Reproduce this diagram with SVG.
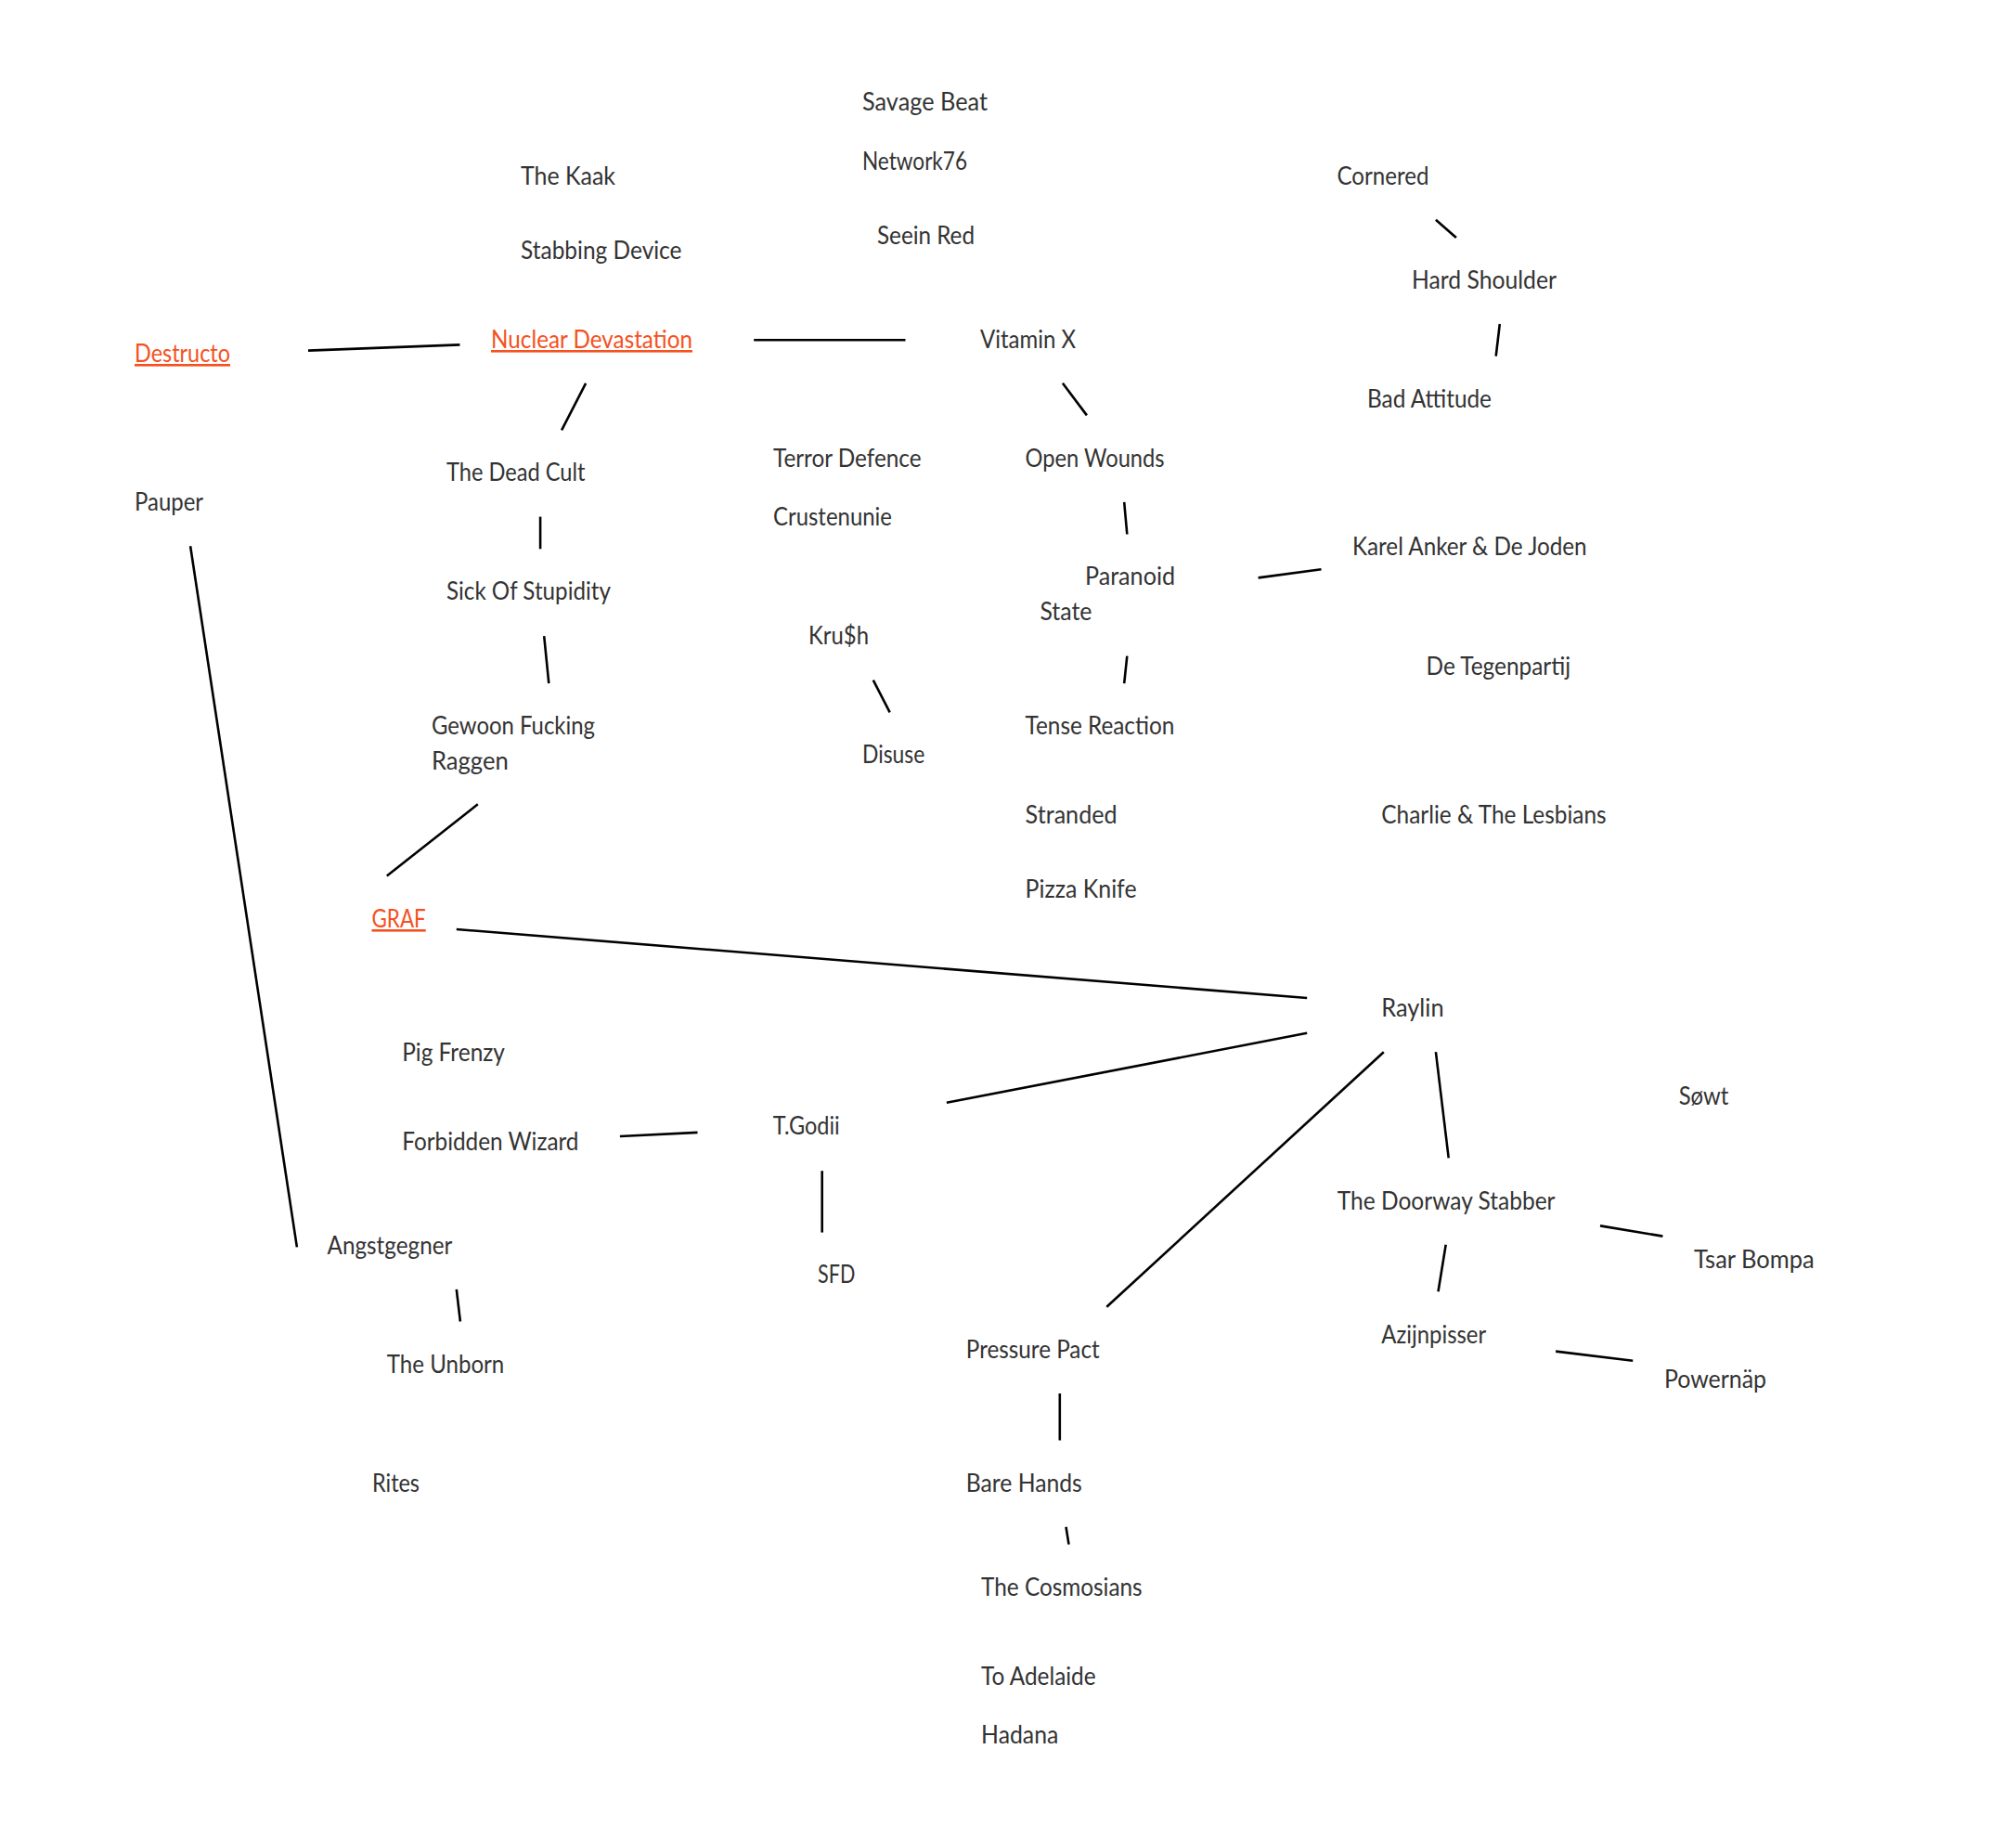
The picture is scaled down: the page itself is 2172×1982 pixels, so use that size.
<svg xmlns="http://www.w3.org/2000/svg" width="2172" height="1982" viewBox="0 0 2172 1982">
<style>
.n{font-family:Lato,"Noto Sans","Liberation Sans",sans-serif;font-size:26px;fill:#333333}
.lk{fill:#f4511e;text-decoration:underline}
.c line{stroke:#000000;stroke-width:2.6;stroke-linecap:butt}
</style>
<rect x="0" y="0" width="2172" height="1982" fill="#ffffff"/>
<g class="c" id="connectors">
<line x1="332" y1="377.6" x2="495.4" y2="371.4"/>
<line x1="812.2" y1="366.3" x2="975.5" y2="366.3"/>
<line x1="631.1" y1="412.8" x2="605.1" y2="463.3"/>
<line x1="582.1" y1="556.6" x2="582.1" y2="591.3"/>
<line x1="586.2" y1="685.2" x2="591.3" y2="736.2"/>
<line x1="514.8" y1="866.3" x2="416.8" y2="943.4"/>
<line x1="205.1" y1="588.3" x2="319.9" y2="1343.4"/>
<line x1="1144.9" y1="412.8" x2="1170.9" y2="447.4"/>
<line x1="1211.2" y1="540.8" x2="1214.3" y2="575.5"/>
<line x1="1355.6" y1="622.4" x2="1423.5" y2="613.3"/>
<line x1="1214.3" y1="706.6" x2="1211.2" y2="736.2"/>
<line x1="940.8" y1="732.7" x2="958.7" y2="767.4"/>
<line x1="1546.9" y1="236.7" x2="1568.9" y2="256.1"/>
<line x1="1615.8" y1="349" x2="1611.7" y2="383.7"/>
<line x1="491.8" y1="1001" x2="1408.2" y2="1075"/>
<line x1="1408.2" y1="1112.8" x2="1019.9" y2="1187.8"/>
<line x1="1490.8" y1="1133.2" x2="1192.3" y2="1407.7"/>
<line x1="1546.9" y1="1133.2" x2="1560.7" y2="1247.4"/>
<line x1="1557.7" y1="1340.8" x2="1549.5" y2="1391.3"/>
<line x1="1724" y1="1320.4" x2="1791.4" y2="1331.6"/>
<line x1="1676.1" y1="1455.6" x2="1759.2" y2="1465.8"/>
<line x1="667.9" y1="1224" x2="751.5" y2="1219.9"/>
<line x1="885.7" y1="1261.2" x2="885.7" y2="1327.6"/>
<line x1="491.8" y1="1388.8" x2="495.9" y2="1423.5"/>
<line x1="1141.8" y1="1501" x2="1141.8" y2="1551.5"/>
<line x1="1148.5" y1="1644.8" x2="1151.5" y2="1663.6"/>
</g>
<g id="nodes" transform="translate(0,1)">
<g id="destructo"><text class="n lk" x="145" y="389" textLength="103" lengthAdjust="spacingAndGlyphs">Destructo</text></g>
<g id="nuclear-devastation"><text class="n lk" x="529" y="374" textLength="217" lengthAdjust="spacingAndGlyphs">Nuclear Devastation</text></g>
<g id="the-kaak"><text class="n" x="561" y="198" textLength="102" lengthAdjust="spacingAndGlyphs">The Kaak</text></g>
<g id="stabbing-device"><text class="n" x="561" y="278" textLength="173.5" lengthAdjust="spacingAndGlyphs">Stabbing Device</text></g>
<g id="savage-beat"><text class="n" x="929" y="118" textLength="135" lengthAdjust="spacingAndGlyphs">Savage Beat</text></g>
<g id="network76"><text class="n" x="929" y="182" textLength="113" lengthAdjust="spacingAndGlyphs">Network76</text></g>
<g id="seein-red"><text class="n" x="945" y="262" textLength="105" lengthAdjust="spacingAndGlyphs">Seein Red</text></g>
<g id="vitamin-x"><text class="n" x="1056" y="374" textLength="103" lengthAdjust="spacingAndGlyphs">Vitamin X</text></g>
<g id="cornered"><text class="n" x="1440.5" y="198" textLength="99" lengthAdjust="spacingAndGlyphs">Cornered</text></g>
<g id="hard-shoulder"><text class="n" x="1521" y="310" textLength="156" lengthAdjust="spacingAndGlyphs">Hard Shoulder</text></g>
<g id="bad-attitude"><text class="n" x="1473" y="438" textLength="134" lengthAdjust="spacingAndGlyphs">Bad Attitude</text></g>
<g id="the-dead-cult"><text class="n" x="481" y="517" textLength="149.5" lengthAdjust="spacingAndGlyphs">The Dead Cult</text></g>
<g id="pauper"><text class="n" x="145" y="549" textLength="74" lengthAdjust="spacingAndGlyphs">Pauper</text></g>
<g id="terror-defence"><text class="n" x="833" y="501.5" textLength="159.6" lengthAdjust="spacingAndGlyphs">Terror Defence</text></g>
<g id="crustenunie"><text class="n" x="833" y="565.3" textLength="128" lengthAdjust="spacingAndGlyphs">Crustenunie</text></g>
<g id="open-wounds"><text class="n" x="1104.6" y="501.5" textLength="150" lengthAdjust="spacingAndGlyphs">Open Wounds</text></g>
<g id="sick-of-stupidity"><text class="n" x="481" y="645.4" textLength="177" lengthAdjust="spacingAndGlyphs">Sick Of Stupidity</text></g>
<g id="paranoid-state"><text class="n" x="1169" y="629.1" textLength="97" lengthAdjust="spacingAndGlyphs">Paranoid</text><text class="n" x="1120.4" y="667.3" textLength="56" lengthAdjust="spacingAndGlyphs">State</text></g>
<g id="karel-anker"><text class="n" x="1457" y="597.4" textLength="252.6" lengthAdjust="spacingAndGlyphs">Karel Anker &amp; De Joden</text></g>
<g id="krush"><text class="n" x="871" y="692.9" textLength="65" lengthAdjust="spacingAndGlyphs">Kru$h</text></g>
<g id="de-tegenpartij"><text class="n" x="1536.5" y="726" textLength="155.6" lengthAdjust="spacingAndGlyphs">De Tegenpartij</text></g>
<g id="gewoon-fucking-raggen"><text class="n" x="465" y="789.8" textLength="176" lengthAdjust="spacingAndGlyphs">Gewoon Fucking</text><text class="n" x="465" y="828.1" textLength="82.7" lengthAdjust="spacingAndGlyphs">Raggen</text></g>
<g id="disuse"><text class="n" x="929" y="821.4" textLength="67.3" lengthAdjust="spacingAndGlyphs">Disuse</text></g>
<g id="tense-reaction"><text class="n" x="1104.6" y="789.8" textLength="160.7" lengthAdjust="spacingAndGlyphs">Tense Reaction</text></g>
<g id="stranded"><text class="n" x="1104.6" y="885.7" textLength="99" lengthAdjust="spacingAndGlyphs">Stranded</text></g>
<g id="charlie"><text class="n" x="1488.3" y="885.7" textLength="242.3" lengthAdjust="spacingAndGlyphs">Charlie &amp; The Lesbians</text></g>
<g id="pizza-knife"><text class="n" x="1104.6" y="965.8" textLength="120" lengthAdjust="spacingAndGlyphs">Pizza Knife</text></g>
<g id="graf"><text class="n lk" x="400.5" y="998" textLength="58.2" lengthAdjust="spacingAndGlyphs">GRAF</text></g>
<g id="raylin"><text class="n" x="1488.3" y="1093.9" textLength="67.3" lengthAdjust="spacingAndGlyphs">Raylin</text></g>
<g id="pig-frenzy"><text class="n" x="433.2" y="1141.8" textLength="110.7" lengthAdjust="spacingAndGlyphs">Pig Frenzy</text></g>
<g id="sowt"><text class="n" x="1808.7" y="1189.3" textLength="53.6" lengthAdjust="spacingAndGlyphs">Søwt</text></g>
<g id="forbidden-wizard"><text class="n" x="433.2" y="1237.8" textLength="190.3" lengthAdjust="spacingAndGlyphs">Forbidden Wizard</text></g>
<g id="t-godii"><text class="n" x="832.7" y="1221.4" textLength="72" lengthAdjust="spacingAndGlyphs">T.Godii</text></g>
<g id="the-doorway-stabber"><text class="n" x="1440.8" y="1301.5" textLength="234.7" lengthAdjust="spacingAndGlyphs">The Doorway Stabber</text></g>
<g id="angstgegner"><text class="n" x="352.6" y="1350" textLength="134.7" lengthAdjust="spacingAndGlyphs">Angstgegner</text></g>
<g id="tsar-bompa"><text class="n" x="1825" y="1365.3" textLength="129.6" lengthAdjust="spacingAndGlyphs">Tsar Bompa</text></g>
<g id="sfd"><text class="n" x="881" y="1380.6" textLength="40.3" lengthAdjust="spacingAndGlyphs">SFD</text></g>
<g id="azijnpisser"><text class="n" x="1488.3" y="1445.9" textLength="112.8" lengthAdjust="spacingAndGlyphs">Azijnpisser</text></g>
<g id="pressure-pact"><text class="n" x="1040.8" y="1462.2" textLength="143.9" lengthAdjust="spacingAndGlyphs">Pressure Pact</text></g>
<g id="the-unborn"><text class="n" x="416.8" y="1477.6" textLength="126.5" lengthAdjust="spacingAndGlyphs">The Unborn</text></g>
<g id="powernap"><text class="n" x="1792.9" y="1493.9" textLength="110.2" lengthAdjust="spacingAndGlyphs">Powernäp</text></g>
<g id="rites"><text class="n" x="401" y="1606.1" textLength="51" lengthAdjust="spacingAndGlyphs">Rites</text></g>
<g id="bare-hands"><text class="n" x="1040.8" y="1606.1" textLength="125" lengthAdjust="spacingAndGlyphs">Bare Hands</text></g>
<g id="the-cosmosians"><text class="n" x="1057.1" y="1717.7" textLength="173.5" lengthAdjust="spacingAndGlyphs">The Cosmosians</text></g>
<g id="to-adelaide"><text class="n" x="1057.1" y="1813.6" textLength="123.5" lengthAdjust="spacingAndGlyphs">To Adelaide</text></g>
<g id="hadana"><text class="n" x="1057.1" y="1877.4" textLength="83.2" lengthAdjust="spacingAndGlyphs">Hadana</text></g>
</g>
</svg>
